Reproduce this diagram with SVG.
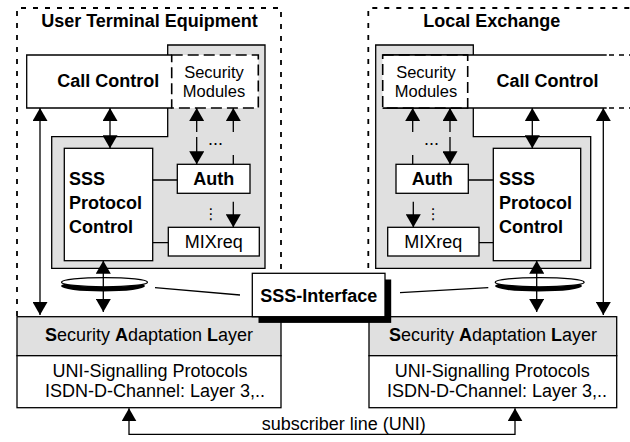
<svg xmlns="http://www.w3.org/2000/svg" width="630" height="442" viewBox="0 0 630 442">
<style>
.bg{fill:#fff}
.box{fill:#fff;stroke:#000;stroke-width:1.3}
.gray{fill:#e0e0e0;stroke:#000;stroke-width:1.3}
.frame{fill:none;stroke:#000;stroke-width:1.8;stroke-dasharray:5 7}
.dbox{fill:#fff;stroke:#000;stroke-width:1.6;stroke-dasharray:11 5}
.ln{fill:none;stroke:#000;stroke-width:1.3}
.a2{marker-start:url(#ah);marker-end:url(#ah)}
.as{marker-start:url(#ah)}
.ae{marker-end:url(#ah)}
.d1{stroke-dasharray:24 5 100}
.d2{stroke-dasharray:24 23 100}
text{font-family:"Liberation Sans",Arial,sans-serif;font-size:18px;fill:#000}
.b{font-weight:bold}
.m{text-anchor:middle}
.sm{font-size:16.5px}
</style>
<defs>
<marker id="ah" viewBox="0 0 13 15" refX="13" refY="7.5" markerWidth="13" markerHeight="15" markerUnits="userSpaceOnUse" orient="auto-start-reverse">
<path d="M0,0 L13,7.5 L0,15 Z" fill="#000"/>
</marker>
</defs>
<rect class="bg" x="0" y="0" width="630" height="442"/>

<g id="user-terminal">
<path class="frame" d="M17,316 V8 H281 V316"/>
<text class="b m" x="149.5" y="27">User Terminal Equipment</text>
<path class="gray" d="M167.7,45 H265 V268.3 H51.7 V136.7 H167.7 Z"/>
</g>
<g id="local-exchange">
<path class="frame" d="M368.3,316 V8 H632"/>
<text class="b m" x="491.7" y="27">Local Exchange</text>
<path class="gray" d="M375.7,45 H473.3 V136.7 H590.7 V268.3 H375.7 Z"/>
</g>

<g id="call-control-left">
<rect x="26.7" y="55" width="145" height="53" fill="#fff"/>
<path class="ln" d="M171.7,55 H26.7 V108 H171.7"/>
<text class="b m" x="108.3" y="87">Call Control</text>
</g>
<g id="security-modules-left">
<rect class="dbox" x="171.7" y="55" width="86.6" height="53"/>
<text class="m sm" x="214" y="78">Security</text>
<text class="m sm" x="214" y="96.6">Modules</text>
</g>

<g id="call-control-right">
<rect x="382.7" y="55" width="247.3" height="53" fill="#fff"/>
<path class="ln" d="M382.7,55 H606.7 M382.7,108 H606.7"/>
<path class="ln" stroke-dasharray="5 5" d="M609,55 H630 M609,108 H630"/>
<text class="b m" x="547.5" y="87">Call Control</text>
</g>
<g id="security-modules-right">
<rect class="dbox" x="382.7" y="55" width="85" height="53" fill="none"/>
<path class="ln" d="M382.7,55 H467.7 M382.7,108 H467.7"/>
<text class="m sm" x="426" y="78">Security</text>
<text class="m sm" x="426" y="96.6">Modules</text>
</g>

<g id="sss-left">
<rect class="box" x="64.3" y="148.3" width="88.4" height="112.4"/>
<text class="b" x="69" y="185">SSS</text>
<text class="b" x="69" y="208.5">Protocol</text>
<text class="b" x="69" y="233">Control</text>
</g>
<g id="auth-left">
<rect class="box" x="177.3" y="164.3" width="72.7" height="29"/>
<text class="b m" x="213.7" y="185">Auth</text>
</g>
<g id="mixreq-left">
<rect class="box" x="168.3" y="227.3" width="91" height="28.7"/>
<text class="m" x="213.8" y="247.5">MIXreq</text>
</g>

<g id="sss-right">
<rect class="box" x="493.3" y="148.3" width="87.4" height="112.4"/>
<text class="b" x="499" y="185">SSS</text>
<text class="b" x="499" y="208.5">Protocol</text>
<text class="b" x="499" y="233">Control</text>
</g>
<g id="auth-right">
<rect class="box" x="396" y="164.3" width="72.3" height="29"/>
<text class="b m" x="432.2" y="185">Auth</text>
</g>
<g id="mixreq-right">
<rect class="box" x="387.7" y="227.3" width="91.3" height="28.7"/>
<text class="m" x="433.3" y="247.5">MIXreq</text>
</g>

<g id="sal-left">
<rect class="gray" x="17" y="316.7" width="264" height="39"/>
<rect class="box" x="17" y="355.7" width="264" height="52"/>
<text class="m" x="149" y="340.7"><tspan class="b">S</tspan>ecurity <tspan class="b">A</tspan>daptation <tspan class="b">L</tspan>ayer</text>
<text class="m" x="150" y="376.7">UNI-Signalling Protocols</text>
<text class="m" x="155" y="396.7">ISDN-D-Channel: Layer 3,..</text>
</g>
<g id="sal-right">
<rect class="gray" x="369" y="316.7" width="247.7" height="39"/>
<rect class="box" x="369" y="355.7" width="247.7" height="52"/>
<text class="m" x="493" y="340.7"><tspan class="b">S</tspan>ecurity <tspan class="b">A</tspan>daptation <tspan class="b">L</tspan>ayer</text>
<text class="m" x="492.3" y="376.7">UNI-Signalling Protocols</text>
<text class="m" x="497" y="396.7">ISDN-D-Channel: Layer 3,..</text>
</g>

<g id="interface-disks">
<ellipse cx="103" cy="286" rx="42" ry="5.5" fill="#000"/>
<ellipse cx="104.5" cy="282.2" rx="43" ry="4.6" fill="#fff" stroke="#000" stroke-width="1.3"/>
<ellipse cx="538.5" cy="286" rx="43.5" ry="5.5" fill="#000"/>
<ellipse cx="539.7" cy="282.2" rx="44.5" ry="4.6" fill="#fff" stroke="#000" stroke-width="1.3"/>
</g>

<g id="connectors">
<path class="ln" d="M152.7,180 H177.3 M152.7,242.7 H168.3"/>
<path class="ln" d="M468.3,180 H493.3 M479,242.7 H493.3"/>
<path class="ln a2" d="M40,108 V315"/>
<path class="ln a2" d="M110,108 V148.3"/>
<path class="ln a2 d1" d="M196.7,108 V164.3"/>
<path class="ln as d2" d="M233.3,108 V164.3"/>
<path class="ln ae" d="M233.3,201.7 V227.3"/>
<path class="ln a2" d="M103.3,260.7 V312"/>
<path class="ln a2" d="M603.3,108 V315"/>
<path class="ln a2" d="M532.3,108 V148.3"/>
<path class="ln a2 d1" d="M450,108 V164.3"/>
<path class="ln as d2" d="M412.7,108 V164.3"/>
<path class="ln ae" d="M413.3,201.7 V227.3"/>
<path class="ln a2" d="M536.7,260.7 V312"/>
<path class="ln" d="M155,287.7 L240,295 M400,292.7 L488.3,287.7"/>
<path class="ln a2" stroke-width="2" d="M129,408.3 V434.3 H515 V408.3"/>
<text x="208" y="145">...</text>
<text x="424" y="145">...</text>
<text class="m" x="211" y="219" style="font-family:'DejaVu Sans',sans-serif;font-size:15px">⋮</text>
<text class="m" x="433.3" y="219" style="font-family:'DejaVu Sans',sans-serif;font-size:15px">⋮</text>
<text class="m" x="343.8" y="430">subscriber line (UNI)</text>
</g>

<g id="sss-interface">
<rect x="258.5" y="279.5" width="132.7" height="43.4" fill="#000"/>
<rect class="box" x="252.3" y="273.3" width="132.7" height="43.4"/>
<text class="b m" x="318.7" y="301.7">SSS-Interface</text>
</g>
</svg>
